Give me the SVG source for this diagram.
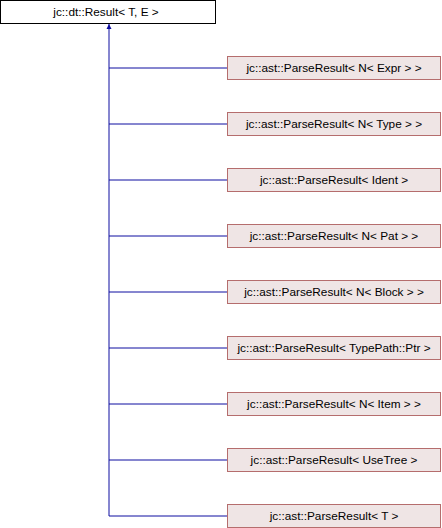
<svg xmlns="http://www.w3.org/2000/svg" width="442" height="528" viewBox="0 0 442 528">
<style>
text{font-family:"Liberation Sans",Arial,sans-serif;font-size:11.8px;fill:#000;text-anchor:middle}
.base{fill:#fff;stroke:#000;stroke-width:1}
.child{fill:#efe5e5;stroke:#b56d6d;stroke-width:1}
.edge{fill:none;stroke:#0c0ca0;stroke-width:1}
</style>
<defs>
<marker id="arr" viewBox="0 0 10 10" refX="10" refY="5" markerWidth="5" markerHeight="6" orient="auto" markerUnits="userSpaceOnUse">
<path d="M0,0 L10,5 L0,10 Z" fill="#0c0ca0"/>
</marker>
</defs>
<g id="connectors">
<path class="edge" d="M109,516 L109,24" marker-end="url(#arr)"/>
<path class="edge" d="M109,68 H227"/>
<path class="edge" d="M109,124 H227"/>
<path class="edge" d="M109,180 H227"/>
<path class="edge" d="M109,236 H227"/>
<path class="edge" d="M109,292 H227"/>
<path class="edge" d="M109,348 H227"/>
<path class="edge" d="M109,404 H227"/>
<path class="edge" d="M109,460 H227"/>
<path class="edge" d="M109,516 H227"/>
</g>
<g id="base"><rect class="base" x="0.5" y="0.5" width="215" height="23"/><text x="106" y="16">jc::dt::Result&lt; T, E &gt;</text></g>
<g id="n1"><rect class="child" x="227.5" y="56.5" width="213" height="23"/><text x="334" y="72">jc::ast::ParseResult&lt; N&lt; Expr &gt; &gt;</text></g>
<g id="n2"><rect class="child" x="227.5" y="112.5" width="213" height="23"/><text x="334" y="128">jc::ast::ParseResult&lt; N&lt; Type &gt; &gt;</text></g>
<g id="n3"><rect class="child" x="227.5" y="168.5" width="213" height="23"/><text x="334" y="184">jc::ast::ParseResult&lt; Ident &gt;</text></g>
<g id="n4"><rect class="child" x="227.5" y="224.5" width="213" height="23"/><text x="334" y="240">jc::ast::ParseResult&lt; N&lt; Pat &gt; &gt;</text></g>
<g id="n5"><rect class="child" x="227.5" y="280.5" width="213" height="23"/><text x="334" y="296">jc::ast::ParseResult&lt; N&lt; Block &gt; &gt;</text></g>
<g id="n6"><rect class="child" x="227.5" y="336.5" width="213" height="23"/><text x="334" y="352">jc::ast::ParseResult&lt; TypePath::Ptr &gt;</text></g>
<g id="n7"><rect class="child" x="227.5" y="392.5" width="213" height="23"/><text x="334" y="408">jc::ast::ParseResult&lt; N&lt; Item &gt; &gt;</text></g>
<g id="n8"><rect class="child" x="227.5" y="448.5" width="213" height="23"/><text x="334" y="464">jc::ast::ParseResult&lt; UseTree &gt;</text></g>
<g id="n9"><rect class="child" x="227.5" y="504.5" width="213" height="23"/><text x="334" y="520">jc::ast::ParseResult&lt; T &gt;</text></g>
</svg>
